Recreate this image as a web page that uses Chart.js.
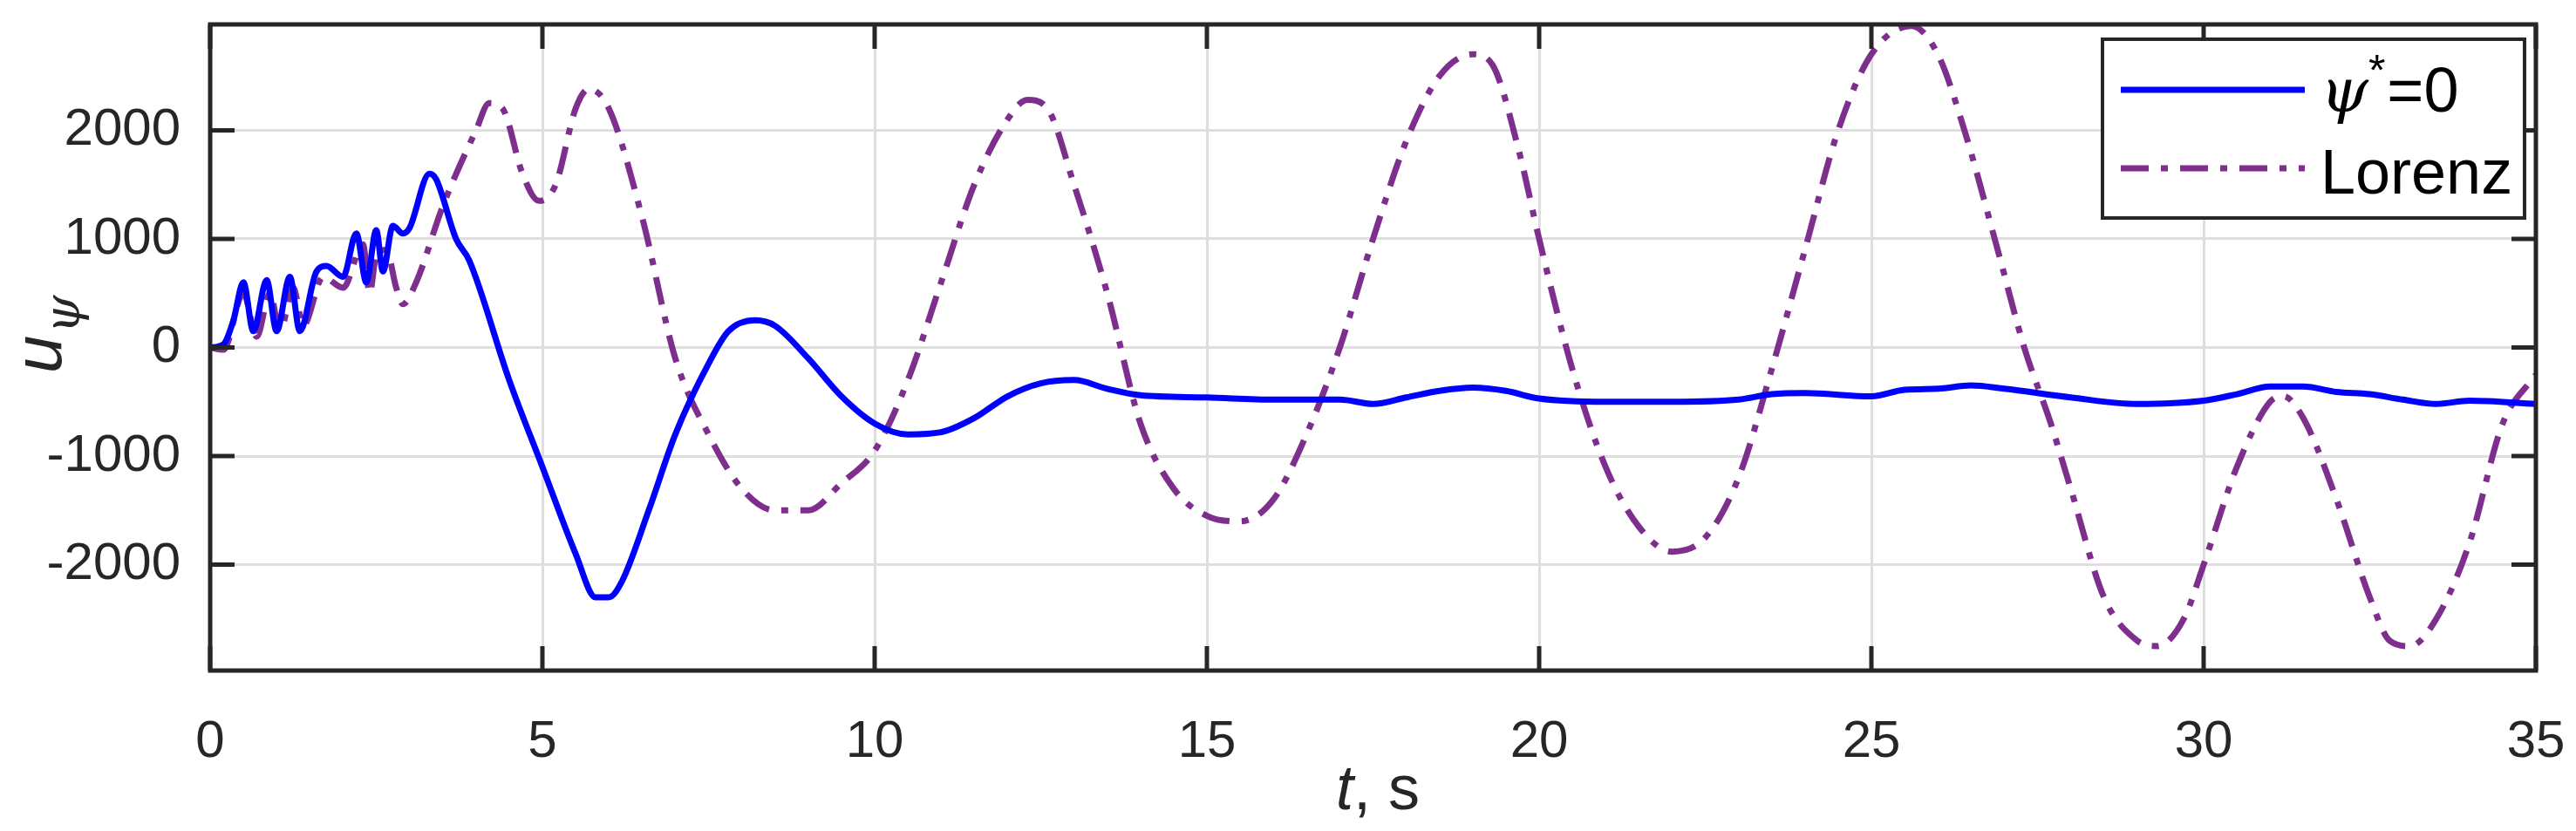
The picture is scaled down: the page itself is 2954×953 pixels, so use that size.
<!DOCTYPE html>
<html><head><meta charset="utf-8">
<script src="https://cdn.jsdelivr.net/npm/chart.js@4"></script>
<style>html,body{margin:0;padding:0;background:#fff}#w{width:2954px;height:953px}</style>
</head><body><div id="w"><canvas id="c"></canvas></div>
<script>
const blueT = [0,0.2,0.35,0.5,0.65,0.85,1.0,1.2,1.35,1.6,1.75,2.0,2.2,2.35,2.5,2.6,2.75,2.9,3.0,3.3,3.4,3.7,3.9,4.5,5,5.5,5.8,6.0,6.2,6.6,7,7.5,7.8,8.2,8.5,9,9.5,10,10.5,11,11.5,12,12.5,13,13.5,14,15,16,17,17.5,18,18.5,19,19.5,20,21,22,23,23.5,24,25,25.5,26,26.5,27,28,29,30,30.5,31,31.5,32,32.5,33,33.5,34,35];
const blueV = [0,30,250,600,150,620,150,650,150,700,750,650,1050,600,1080,700,1120,1050,1100,1600,1550,1000,800,-300,-1100,-1900,-2300,-2300,-2150,-1500,-800,-150,150,250,200,-100,-450,-700,-800,-780,-650,-450,-330,-300,-380,-440,-460,-480,-480,-520,-460,-400,-370,-400,-470,-500,-500,-480,-430,-420,-450,-390,-380,-350,-380,-460,-520,-490,-430,-360,-360,-410,-430,-480,-520,-490,-520];
const lorT = [0,0.2,0.5,0.7,0.9,1.05,1.25,1.4,1.7,2.0,2.3,2.4,2.5,2.65,2.8,2.9,3.1,3.5,4.0,4.2,4.4,4.7,4.95,5.2,5.5,5.7,6.0,6.5,7,7.5,8,8.5,9,9.5,10,10.5,11,11.5,12,12.3,12.6,13,13.5,14,14.5,15,15.5,16,16.5,17,17.5,18,18.5,19,19.3,19.7,20,20.5,21,21.5,22,22.5,23,23.5,24,24.5,25,25.6,26.0,26.4,26.9,27.3,27.7,28,28.5,29,29.3,29.7,30,30.5,31,31.2,31.5,32,32.5,32.8,33.1,33.5,34,34.5,35];
const lorV = [0,-20,500,100,500,150,550,200,650,550,950,500,850,900,550,400,600,1300,2000,2250,2200,1600,1350,1500,2200,2380,2200,1200,-100,-800,-1300,-1500,-1500,-1250,-950,-300,600,1500,2100,2280,2200,1500,500,-700,-1300,-1550,-1600,-1400,-800,0,1000,1900,2500,2700,2600,1800,1000,-200,-1100,-1650,-1880,-1750,-1200,-200,900,2000,2700,2960,2700,2000,900,0,-700,-1300,-2300,-2700,-2750,-2500,-2000,-1100,-500,-450,-650,-1400,-2300,-2700,-2750,-2500,-1800,-700,-250];
const xTicks = [0,5,10,15,20,25,30,35];
const yTicks = [-2000,-1000,0,1000,2000];
const seriesNames = ['\u03C8*=0','Lorenz'];

const pts = (t,v)=>t.map((x,i)=>({x:x,y:v[i]}));
const DASH=[32,14,8,14];
const FONT='"Liberation Sans", Arial, sans-serif';

const deco = {
  id:'deco',
  afterDatasetsDraw(ch){
    const c=ch.ctx, a=ch.chartArea, xs=ch.scales.x, ys=ch.scales.y;
    c.save();
    c.strokeStyle='#262626'; c.lineWidth=5;
    c.strokeRect(a.left,a.top,a.right-a.left,a.bottom-a.top);
    c.beginPath();
    xTicks.forEach(t=>{const x=xs.getPixelForValue(t);
      c.moveTo(x,a.bottom);c.lineTo(x,a.bottom-28);c.moveTo(x,a.top);c.lineTo(x,a.top+28);});
    yTicks.forEach(v=>{const y=ys.getPixelForValue(v);
      c.moveTo(a.left,y);c.lineTo(a.left+28,y);c.moveTo(a.right,y);c.lineTo(a.right-28,y);});
    c.stroke();
    // legend
    const L=2411,T=45,R=2895,B=250;
    c.fillStyle='#fff'; c.fillRect(L,T,R-L,B-T);
    c.strokeStyle='#262626'; c.lineWidth=4; c.strokeRect(L,T,R-L,B-T);
    c.lineWidth=7; c.strokeStyle='#0000ff'; c.setLineDash([]);
    c.beginPath(); c.moveTo(2432,103); c.lineTo(2643,103); c.stroke();
    c.strokeStyle='#7e2f8e'; c.setLineDash(DASH);
    c.beginPath(); c.moveTo(2432,193); c.lineTo(2643,193); c.stroke();
    c.setLineDash([]);
    c.fillStyle='#000'; c.textBaseline='alphabetic'; c.textAlign='left';
    c.font='italic 70px "DejaVu Serif", serif';
    c.fillText('\u03C8',2661,128);
    let w=c.measureText('\u03C8').width;
    c.font='50px '+FONT; c.fillText('*',2661+w,98);
    let w2=c.measureText('*').width;
    c.font='72px '+FONT; c.fillText('=0',2661+w+w2+2,128);
    c.fillText('Lorenz',2661,222);
    // axis titles
    c.fillStyle='#262626';
    c.font='italic 72px '+FONT;
    const tw=c.measureText('t').width;
    c.font='72px '+FONT;
    const sw=c.measureText(', s').width;
    let x0=1580-(tw+sw)/2;
    c.font='italic 72px '+FONT; c.fillText('t',x0,928);
    c.font='72px '+FONT; c.fillText(', s',x0+tw,928);
    c.translate(70,428); c.rotate(-Math.PI/2);
    c.font='italic 78px '+FONT; c.fillText('u',0,0);
    const uw=c.measureText('u').width;
    c.font='italic 56px "DejaVu Serif", serif'; c.fillText('\u03C8',uw+2,20);
    c.restore();
  }
};

new Chart(document.getElementById('c'),{
  type:'line',
  data:{datasets:[
    {label:seriesNames[0],data:pts(blueT,blueV),borderColor:'#0000ff',borderWidth:7,pointRadius:0,cubicInterpolationMode:'monotone',fill:false},
    {label:seriesNames[1],data:pts(lorT,lorV),borderColor:'#7e2f8e',borderWidth:7,borderDash:DASH,pointRadius:0,cubicInterpolationMode:'monotone',fill:false}
  ]},
  options:{
    responsive:true,maintainAspectRatio:false,animation:false,devicePixelRatio:1,
    layout:{padding:{top:28,right:46,left:0,bottom:0}},
    plugins:{legend:{display:false},tooltip:{enabled:false}},
    scales:{
      x:{type:'linear',min:0,max:35,
        afterBuildTicks(s){s.ticks=xTicks.map(v=>({value:v}));},
        afterFit(s){s.height=184;s.paddingLeft=0;s.paddingRight=0;},
        grid:{color:'#dedede',lineWidth:3,drawTicks:false},border:{display:false},
        ticks:{padding:46,color:'#262626',font:{family:FONT,size:60},maxRotation:0,callback:v=>String(v)}},
      y:{min:-2975,max:2975,
        afterBuildTicks(s){s.ticks=yTicks.map(v=>({value:v}));},
        afterFit(s){s.width=241;s.paddingTop=0;s.paddingBottom=0;},
        grid:{color:'#dedede',lineWidth:3,drawTicks:false},border:{display:false},
        ticks:{padding:34,color:'#262626',font:{family:FONT,size:60},callback:v=>String(v)}}
    }
  },
  plugins:[deco]
});
</script></body></html>
